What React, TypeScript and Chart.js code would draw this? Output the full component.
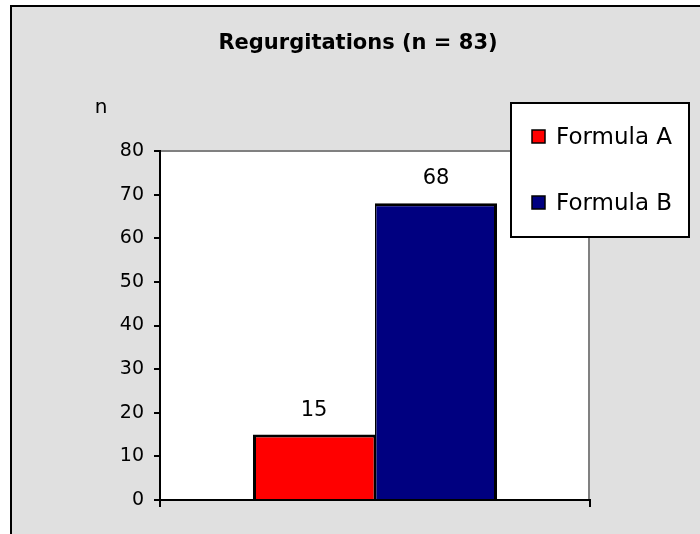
import React, { useEffect, useRef } from "react";
import { Chart, registerables } from "chart.js";

Chart.register(...registerables);

const TITLE = "Regurgitations (n = 83)";
const Y_LABEL = "n";
const CATEGORIES = [""];
const SERIES_NAMES = ["Formula A", "Formula B"];
const FORMULA_A = [15];
const FORMULA_B = [68];
const Y_MIN = 0;
const Y_MAX = 80;
const Y_STEP = 10;
const SERIES_COLORS = ["#FF0000", "#000080"];

const FONT = '"DejaVu Sans", "Liberation Sans", Arial, sans-serif';
const BG = "#E0E0E0";

const backgroundPlugin = {
  id: "excelBackground",
  beforeDraw(chart: any) {
    const { ctx, width, height, chartArea: a } = chart;
    ctx.save();
    ctx.fillStyle = "#FFFFFF";
    ctx.fillRect(0, 0, width, height);
    ctx.fillStyle = BG;
    ctx.fillRect(10, 5, width - 10, height - 5);
    ctx.fillStyle = "#000000";
    ctx.fillRect(10, 5, width - 10, 2);
    ctx.fillRect(10, 5, 2, height - 5);
    ctx.fillStyle = "#FFFFFF";
    ctx.fillRect(a.left, a.top, a.right - a.left, a.bottom - a.top);
    ctx.strokeStyle = "#808080";
    ctx.lineWidth = 2;
    ctx.beginPath();
    ctx.moveTo(a.left, a.top);
    ctx.lineTo(a.right - 1, a.top);
    ctx.lineTo(a.right - 1, a.bottom);
    ctx.stroke();
    ctx.restore();
  },
};

const valueLabelPlugin = {
  id: "valueLabels",
  afterDatasetsDraw(chart: any) {
    const { ctx } = chart;
    ctx.save();
    ctx.fillStyle = "#000000";
    ctx.font = `21px ${FONT}`;
    ctx.textAlign = "center";
    ctx.textBaseline = "alphabetic";
    chart.data.datasets.forEach((ds: any, i: number) => {
      const meta = chart.getDatasetMeta(i);
      meta.data.forEach((el: any, j: number) => {
        ctx.fillText(String(ds.data[j]), el.x, el.y - 19);
      });
    });
    ctx.restore();
  },
};

const overlayPlugin = {
  id: "excelLegendAndAxisLabel",
  afterDraw(chart: any) {
    const { ctx } = chart;
    ctx.save();
    ctx.fillStyle = "#000000";
    ctx.font = `20px ${FONT}`;
    ctx.textAlign = "center";
    ctx.textBaseline = "alphabetic";
    ctx.fillText(Y_LABEL, 101, 113);

    const bx = 511;
    const by = 103;
    const bw = 178;
    const bh = 134;
    ctx.fillStyle = "#FFFFFF";
    ctx.fillRect(bx, by, bw, bh);
    ctx.strokeStyle = "#000000";
    ctx.lineWidth = 2;
    ctx.strokeRect(bx, by, bw, bh);

    ctx.font = `23px ${FONT}`;
    ctx.textAlign = "left";
    ctx.textBaseline = "middle";
    chart.data.datasets.forEach((ds: any, i: number) => {
      const cy = 137 + i * 66;
      ctx.fillStyle = ds.backgroundColor;
      ctx.fillRect(532, cy - 7, 13, 13);
      ctx.strokeStyle = "#000000";
      ctx.lineWidth = 1.5;
      ctx.strokeRect(532, cy - 7, 13, 13);
      ctx.fillStyle = "#000000";
      ctx.fillText(ds.label, 556, cy + 1);
    });
    ctx.restore();
  },
};

export default function App() {
  const canvasRef = useRef<HTMLCanvasElement | null>(null);

  useEffect(() => {
    if (!canvasRef.current) return;
    const chart = new Chart(canvasRef.current, {
      type: "bar",
      data: {
        labels: CATEGORIES,
        datasets: [
          {
            label: SERIES_NAMES[0],
            data: FORMULA_A,
            backgroundColor: SERIES_COLORS[0],
            borderColor: "#000000",
            borderWidth: { top: 3, left: 3, right: 1.5, bottom: 0 },
            borderSkipped: false,
            inflateAmount: 0,
            categoryPercentage: 244 / 430,
            barPercentage: 1,
          },
          {
            label: SERIES_NAMES[1],
            data: FORMULA_B,
            backgroundColor: SERIES_COLORS[1],
            borderColor: "#000000",
            borderWidth: { top: 3, left: 1.5, right: 3, bottom: 0 },
            borderSkipped: false,
            inflateAmount: 0,
            categoryPercentage: 244 / 430,
            barPercentage: 1,
          },
        ],
      },
      options: {
        animation: false,
        responsive: false,
        devicePixelRatio: 1,
        layout: { padding: { left: 16, right: 0, top: 0, bottom: 27 } },
        plugins: {
          legend: { display: false },
          tooltip: { enabled: false },
          title: {
            display: true,
            text: TITLE,
            color: "#000000",
            font: { family: FONT, size: 21, weight: "bold", lineHeight: 1.2 },
            padding: { top: 31, bottom: 94.8 },
          },
        },
        scales: {
          x: {
            offset: true,
            grid: {
              offset: true,
              drawOnChartArea: false,
              color: "#000000",
              lineWidth: 2,
              tickLength: 7,
            },
            ticks: { display: false },
            border: { color: "#000000", width: 2 },
          },
          y: {
            min: Y_MIN,
            max: Y_MAX,
            ticks: {
              stepSize: Y_STEP,
              color: "#000000",
              font: { family: FONT, size: 19 },
              padding: 10,
            },
            grid: {
              drawOnChartArea: false,
              color: "#000000",
              lineWidth: 2,
              tickLength: 6,
            },
            border: { color: "#000000", width: 2 },
            afterFit: (s: any) => {
              s.width = 144;
            },
          },
          y2: {
            position: "right",
            display: true,
            grid: { display: false },
            ticks: { display: false },
            border: { display: false },
            afterFit: (s: any) => {
              s.width = 110;
            },
          },
        },
      },
      plugins: [backgroundPlugin, valueLabelPlugin, overlayPlugin],
    } as any);
    return () => chart.destroy();
  }, []);

  return (
    <div style={{ position: "fixed", left: 0, top: 0, width: 700, height: 534 }}>
      <canvas ref={canvasRef} width={700} height={534} style={{ display: "block" }} />
    </div>
  );
}
